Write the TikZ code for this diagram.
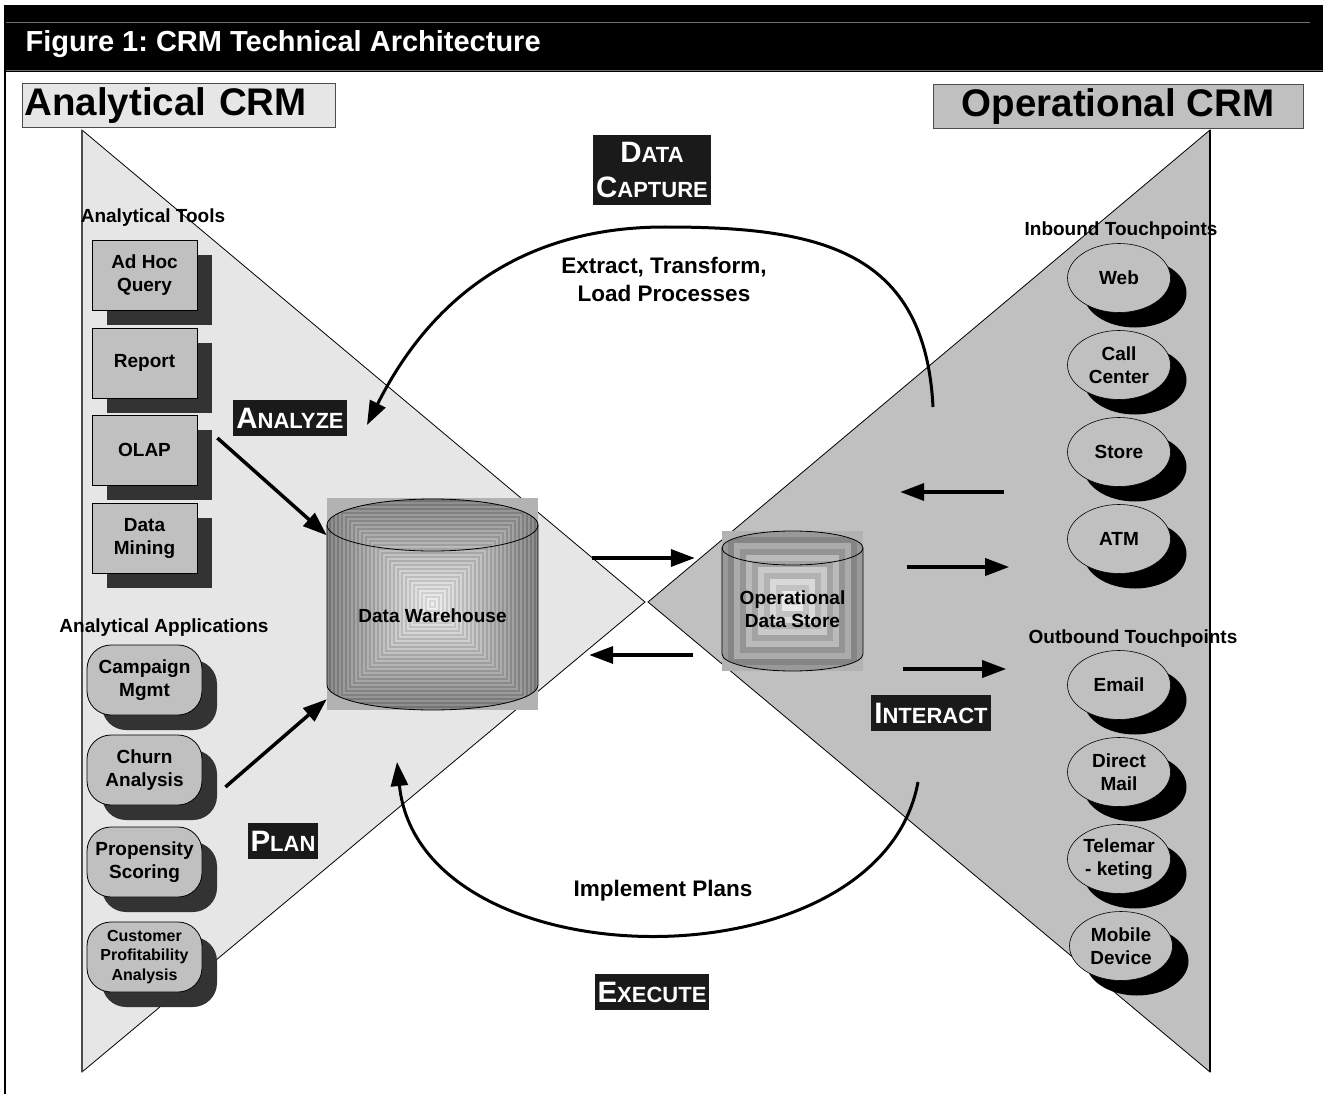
\documentclass[tikz,border=0pt]{standalone}
\usepackage{fontspec}
\setmainfont{Liberation Sans}
\frenchspacing
\usetikzlibrary{arrows.meta}
\usetikzlibrary{shapes.geometric}
\usetikzlibrary{shadows}
\definecolor{paleGray}{HTML}{E6E6E6}
\definecolor{midGray}{HTML}{C0C0C0}
\definecolor{darkShadow}{HTML}{333333}
\definecolor{labelBlack}{HTML}{1A1A1A}
\newcommand{\capword}[2]{{\fontsize{29.5}{35}\selectfont #1}{\fontsize{22}{35}\selectfont #2}}
\tikzset{%
  >={Triangle[length=24pt,width=17pt]},
  % Specifications for style of nodes:
          base/.style = {inner sep=0pt, align=center,
                         font=\bfseries\fontsize{19}{23}\selectfont},
          head/.style = {base},
          note/.style = {base, font=\bfseries\fontsize{22.5}{28}\selectfont},
        crmbox/.style = {base, draw=black!70, line width=1pt, minimum height=44pt,
                         inner xsep=2pt, font=\bfseries\fontsize{38.5}{40}\selectfont},
          tool/.style = {base, rectangle, draw=black, line width=0.8pt, fill=midGray,
                         minimum width=105pt, minimum height=70pt,
                         drop shadow={shadow xshift=15pt, shadow yshift=-15pt,
                                      fill=darkShadow, opacity=1}},
   application/.style = {tool, rounded corners=24pt, minimum width=115pt},
    touchpoint/.style = {base, ellipse, draw=black, line width=0.6pt, fill=midGray,
                         minimum width=103pt, minimum height=69pt,
                         drop shadow={shadow xshift=16pt, shadow yshift=-15pt,
                                      fill=black, opacity=1}},
         phase/.style = {base, fill=labelBlack, text=white, inner xsep=3pt,
                         inner ysep=7.5pt, font=\bfseries\fontsize{29.5}{35}\selectfont},
        cylbox/.style = {inner sep=0pt, fill=black!30},
          flow/.style = {->, line width=3.5pt},
}

\begin{document}
\begin{tikzpicture}[x=1pt, y=-1pt, node distance=87pt]
  \useasboundingbox (0,0) rectangle (1323,1094);

  % Title bar and frame
  \fill[black] (5,5) rectangle (1323,72);
  \draw[black!55, line width=1pt] (5,23) -- (1310,23);
  \draw[black!55, line width=1pt] (5,71) -- (1323,71);
  \draw[line width=1.5pt] (5,5) -- (5,1094);
  \node (figTitle) [anchor=base west, text=white,
        font=\bfseries\fontsize{29}{30}\selectfont] at (22,52) {Figure 1: CRM Technical Architecture};

  % The two halves
  \filldraw[fill=paleGray, draw=black, line width=0.8pt] (82,130) -- (645,602) -- (82,1072) -- cycle;
  \draw[black!70, line width=2pt] (82,130) -- (82,1072);
  \filldraw[fill=midGray, draw=black, line width=0.8pt] (1210,130) -- (648,602) -- (1210,1072) -- cycle;
  \draw[line width=1.3pt] (1210,130) -- (1210,1072);

  \node (analyticalCRM)  [crmbox, fill=paleGray, anchor=west, text width=309pt, align=left] at (22,106) {Analytical CRM};
  \node (operationalCRM) [crmbox, fill=midGray, minimum width=370pt] at (1118,107) {Operational CRM};

  % Specification of nodes (position, etc.)
  \node (toolsHead)    [head] at (153,218) {Analytical Tools};
  \node (appsHead)     [head] at (164,628) {Analytical Applications};
  \node (inboundHead)  [head] at (1121,231) {Inbound Touchpoints};
  \node (outboundHead) [head] at (1133,639) {Outbound Touchpoints};

  \node (adHoc)  [tool] at (144.5,275) {Ad Hoc\\Query};
  \node (report) [tool, below of=adHoc, yshift=-1pt] {Report};
  \node (olap)   [tool, below of=report] {OLAP};
  \node (mining) [tool, below of=olap, yshift=-1pt] {Data\\Mining};

  \node (campaign)      [application] at (144.5,680) {Campaign\\Mgmt};
  \node (churn)         [application, below of=campaign, yshift=-3pt] {Churn\\Analysis};
  \node (propensity)    [application, below of=churn, yshift=-5pt] {Propensity\\Scoring};
  \node (profitability) [application, below of=propensity, yshift=-8pt,
        font=\bfseries\fontsize{16}{19.5}\selectfont] {Customer\\Profitability\\Analysis};

  \node (web)        [touchpoint] at (1119,278) {Web};
  \node (callCenter) [touchpoint, below of=web] {Call\\Center};
  \node (store)      [touchpoint, below of=callCenter] {Store};
  \node (atm)        [touchpoint, below of=store] {ATM};

  \node (email)         [touchpoint] at (1119,685) {Email};
  \node (directMail)    [touchpoint, below of=email] {Direct\\Mail};
  \node (telemarketing) [touchpoint, below of=directMail] {Telemar\\- keting};
  \node (mobile)        [touchpoint, below of=telemarketing, xshift=2pt] {Mobile\\Device};

  % Data warehouse
  \node (dwBox) [cylbox, minimum width=211pt, minimum height=212pt] at (432.5,604) {};
  \begin{scope}
    \clip (327,525) -- (327,685) arc[start angle=180, end angle=0, x radius=105.5, y radius=25]
          -- (538,525) arc[start angle=0, end angle=-180, x radius=105.5, y radius=26] -- cycle;
    \foreach \k in {0,...,52} {
      \pgfmathsetmacro{\tone}{int(46-40*\k/52+10*mod(\k,2))}
      \fill[black!\tone] (327+2*\k,498+2*\k) rectangle (538-2*\k,710-2*\k);
    }
  \end{scope}
  \draw[line width=0.8pt] (327,525) -- (327,685) arc[start angle=180, end angle=0, x radius=105.5, y radius=25] -- (538,525);
  \draw[line width=0.8pt] (432.5,525) ellipse [x radius=105.5, y radius=26];
  \node (dw) [base] at (432.5,616) {Data Warehouse};

  % Operational data store
  \node (odsBox) [cylbox, minimum width=141pt, minimum height=140pt] at (792.5,601) {};
  \begin{scope}
    \clip (722,548) -- (722,654) arc[start angle=180, end angle=0, x radius=70.5, y radius=17]
          -- (863,548) arc[start angle=0, end angle=-180, x radius=70.5, y radius=17] -- cycle;
    \foreach \k in {0,...,11} {
      \pgfmathsetmacro{\tone}{int(40-34*\k/11+12*mod(\k,2))}
      \fill[black!\tone] (722+6*\k,531+6*\k) rectangle (863-6*\k,671-6*\k);
    }
  \end{scope}
  \draw[line width=0.8pt] (722,548) -- (722,654) arc[start angle=180, end angle=0, x radius=70.5, y radius=17] -- (863,548);
  \draw[line width=0.8pt] (792.5,548) ellipse [x radius=70.5, y radius=17];
  \node (ods) [base] at (792.5,609) {Operational\\Data Store};

  % Phase labels
  \node (dataCapture) [phase] at (652,170) {\capword{D}{ATA}\\\capword{C}{APTURE}};
  \node (analyze)     [phase] at (290,418) {\capword{A}{NALYZE}};
  \node (plan)        [phase] at (283,841) {\capword{P}{LAN}};
  \node (interact)    [phase] at (931,713) {\capword{I}{NTERACT}};
  \node (execute)     [phase] at (652,992) {\capword{E}{XECUTE}};

  \node (etl)       [note] at (664,279) {Extract, Transform,\\Load Processes};
  \node (implement) [note] at (663,891) {Implement Plans};

  % Specification of lines between nodes specified above
  \draw[flow] ([xshift=20pt,yshift=12pt]olap.east) -- (dwBox.147);
  \draw[flow] ([xshift=23pt,yshift=-17pt]churn.east) -- (dwBox.222);
  \draw[flow] ([xshift=54pt,yshift=46pt]dwBox.east) -- ([xshift=-27pt,yshift=43pt]odsBox.west);
  \draw[flow] ([xshift=-29pt,yshift=-54pt]odsBox.west) -- ([xshift=51pt,yshift=-51pt]dwBox.east);
  \draw[flow] ([xshift=-63pt,yshift=47pt]atm.west) -- ([xshift=37pt,yshift=109pt]odsBox.east);
  \draw[flow] ([xshift=44pt,yshift=34pt]odsBox.east) -- ([xshift=-58pt,yshift=-28pt]atm.west);
  \draw[flow] ([xshift=40pt,yshift=-68pt]odsBox.east) -- ([xshift=-61pt,yshift=16pt]email.west);

  \coordinate (etlFrom)  at (933,407);
  \coordinate (etlTop)   at (665,227);
  \coordinate (etlTo)    at (367,425);
  \coordinate (planFrom) at (918,782);
  \coordinate (planTo)   at (397,762);
  \draw[flow, line width=3pt] (etlFrom) .. controls (925,250) and (820,227) .. (etlTop)
        .. controls (520,227) and (430,300) .. (etlTo);
  \draw[flow, line width=3pt] (planFrom) .. controls (880,990) and (420,985) .. (planTo);
\end{tikzpicture}
\end{document}
